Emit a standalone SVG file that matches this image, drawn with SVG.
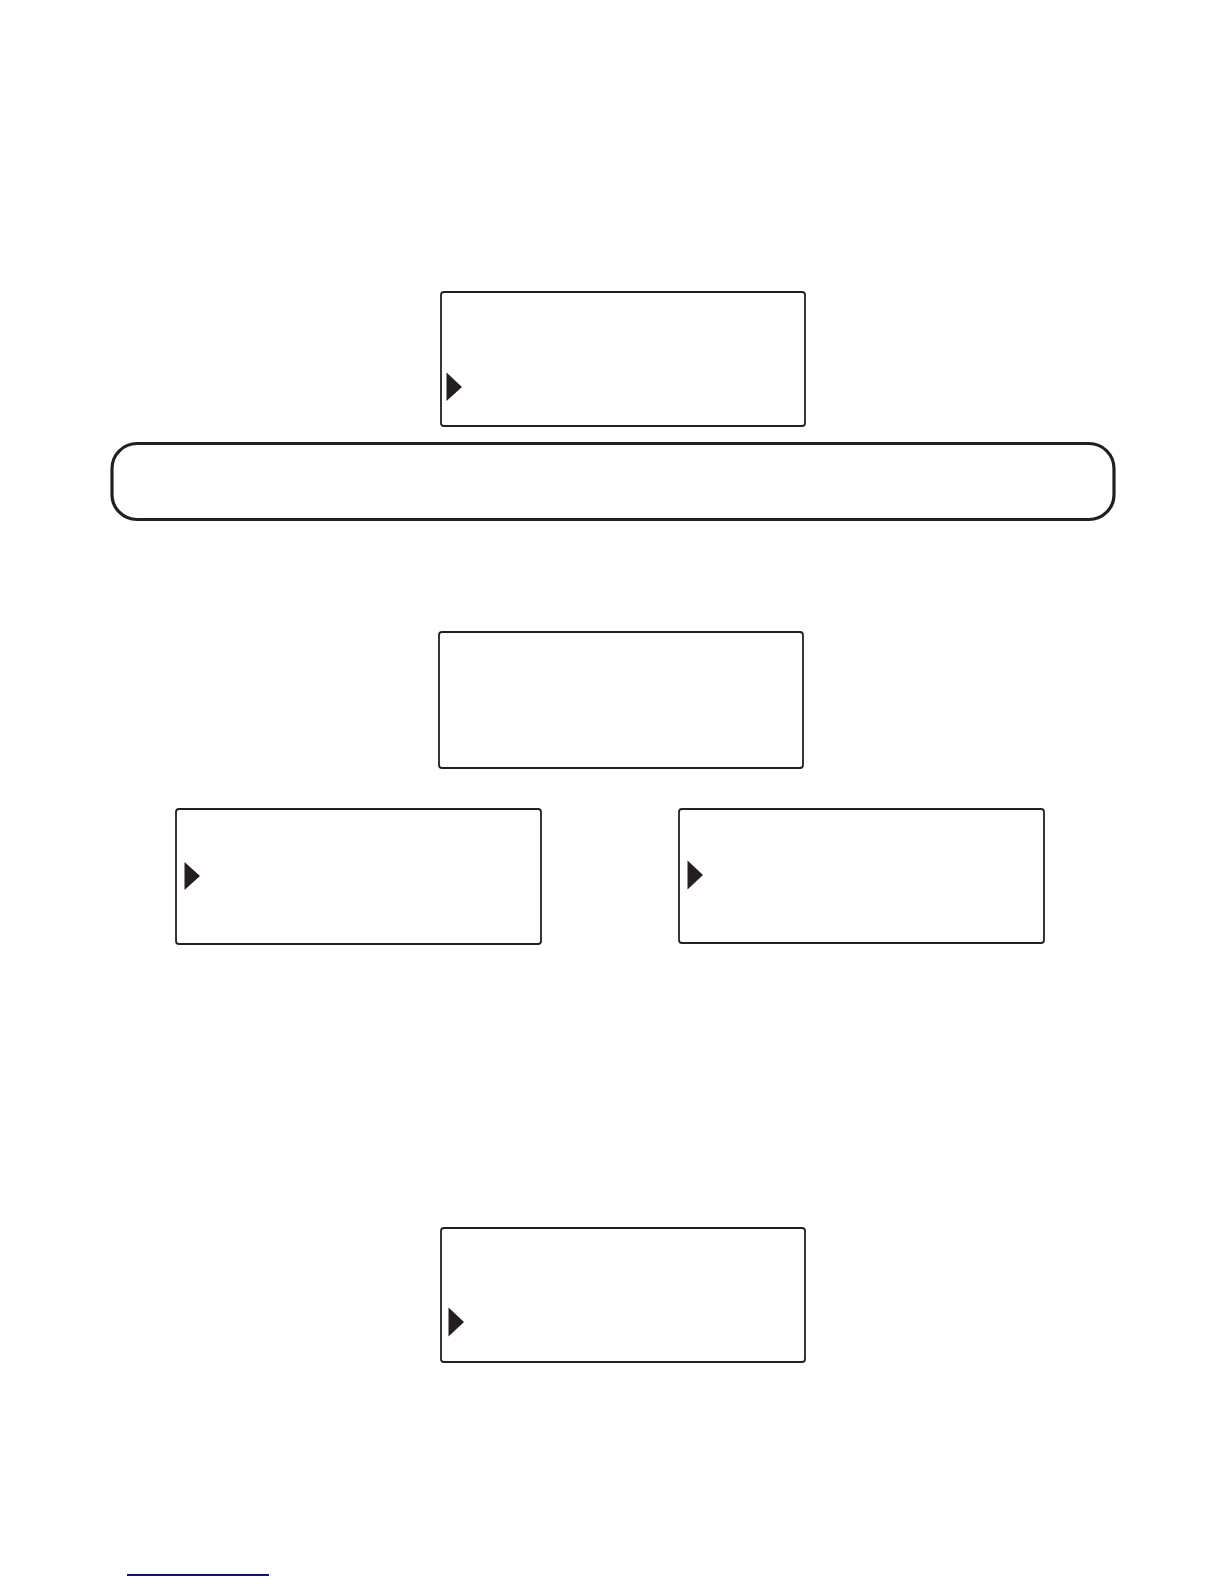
<svg xmlns="http://www.w3.org/2000/svg" width="1224" height="1584" viewBox="0 0 1224 1584">
<style>
.box{fill:#fff;stroke:#231f20;stroke-width:1.8}
.band{fill:#fff;stroke:#231f20;stroke-width:3.2}
.tri{fill:#231f20}
</style>
<rect width="1224" height="1584" fill="#fff"/>
<g id="connectors"></g>
<g id="node-top">
<rect class="box" x="441" y="292" width="364" height="134" rx="3"/>
<polygon class="tri" points="446.5,372.5 462,387 446.5,401"/>
</g>
<g id="node-band">
<rect class="band" x="112" y="443.5" width="1002" height="76" rx="25"/>
</g>
<g id="node-middle">
<rect class="box" x="439" y="632" width="364" height="136" rx="3"/>
</g>
<g id="node-left">
<rect class="box" x="176" y="809" width="365" height="135" rx="3"/>
<polygon class="tri" points="184.5,862 200,876 184.5,890"/>
</g>
<g id="node-right">
<rect class="box" x="679" y="809" width="365" height="134" rx="3"/>
<polygon class="tri" points="687.5,860.5 703,875 687.5,889.5"/>
</g>
<g id="node-bottom">
<rect class="box" x="441" y="1228" width="364" height="134" rx="3"/>
<polygon class="tri" points="448.5,1307.5 464,1322 448.5,1336.5"/>
</g>
<line x1="127" y1="1575" x2="269" y2="1575" stroke="#10108c" stroke-width="1.8"/>
</svg>
